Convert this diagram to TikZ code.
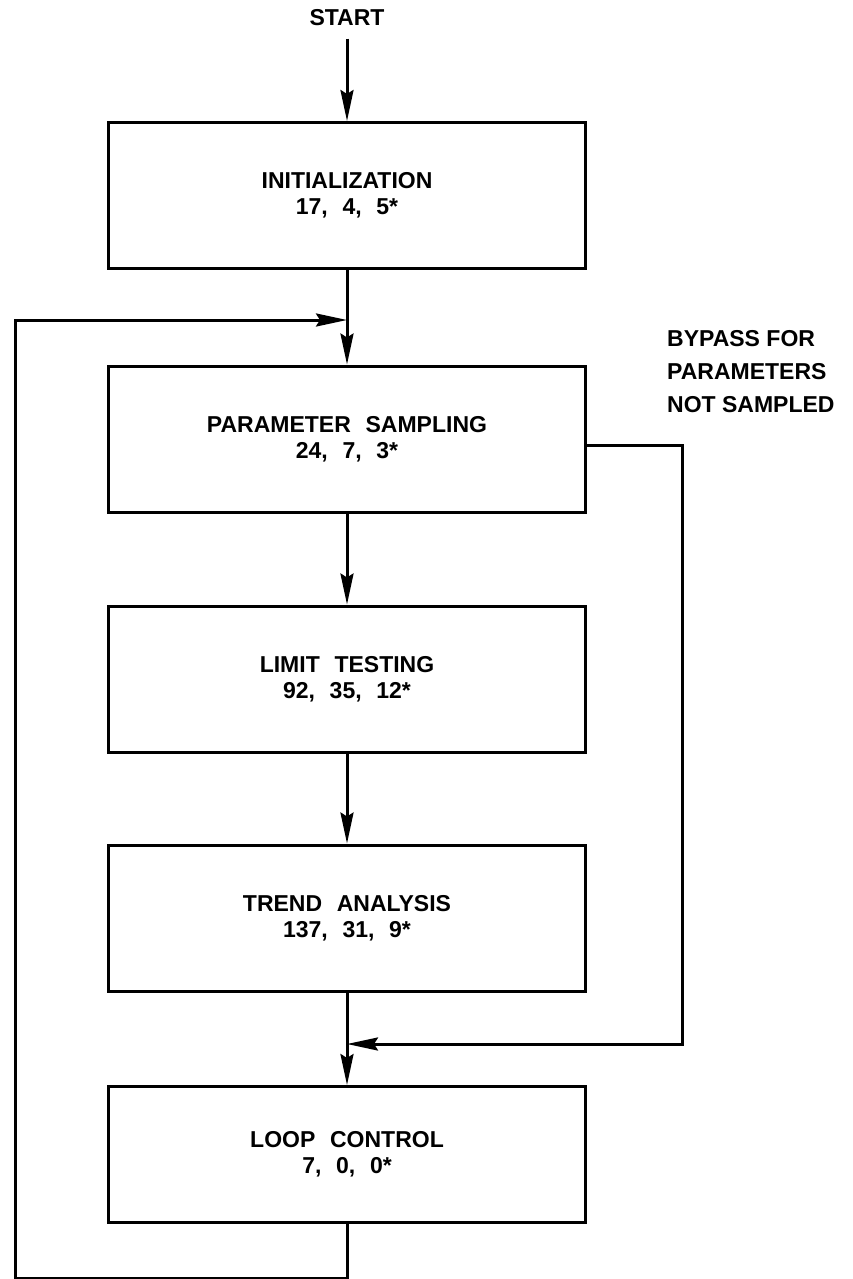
\documentclass[tikz,border=0pt]{standalone}
\usepackage{fontspec}
\setmainfont{Liberation Sans}
\newfontfamily\boxfont{Liberation Sans}[WordSpace=2.3]
\usetikzlibrary{arrows.meta}
\begin{document}
\begin{tikzpicture}[
  x=1pt, y=-1pt,
  font=\fontsize{23}{26}\selectfont\bfseries,
  box/.style={draw, line width=3pt, minimum width=477pt, minimum height=146pt, align=center, inner sep=0pt,
    font=\boxfont\fontsize{23}{26}\selectfont\bfseries},
  line/.style={line width=3pt},
  arrow/.style={line, -{Stealth[length=31pt, width=13pt, inset=4pt]}}
]
\useasboundingbox (0,0) rectangle (853,1279);
\node (start) at (347,18) {START};
\node[box] (init)  at (347,195.5) {INITIALIZATION\\17, 4, 5*};
\node[box] (param) at (347,439)   {PARAMETER SAMPLING\\24, 7, 3*};
\node[box] (limit) at (347,679)   {LIMIT TESTING\\92, 35, 12*};
\node[box] (trend) at (347,918)   {TREND ANALYSIS\\137, 31, 9*};
\node[box, minimum height=136pt] (loopc) at (347,1154.5) {LOOP CONTROL\\7, 0, 0*};
\node[anchor=north west, inner sep=0pt, align=left, font=\fontsize{23}{33}\selectfont\bfseries]
  (bypasstext) at (667,330) {BYPASS FOR\\PARAMETERS\\NOT SAMPLED};
\coordinate (loopjoin)   at (347,320);
\coordinate (bypassjoin) at (347,1044);
\coordinate (loopleft)   at (15,320);
% main flow
\draw[arrow, shorten <=9pt] (start) -- (init);
\draw[line]  (init) -- (loopjoin);
\draw[arrow] (loopjoin) -- (param);
\draw[arrow] (param) -- (limit);
\draw[arrow] (limit) -- (trend);
\draw[line]  (trend) -- (bypassjoin);
\draw[arrow] (bypassjoin) -- (loopc);
% bypass and loop back
\draw[arrow] ([yshift=-6pt]param.east) -- ++(95,0) |- (bypassjoin);
\draw[arrow] (loopc.south) -- ++(0,54) -| (loopleft) -- (loopjoin);
\end{tikzpicture}
\end{document}
